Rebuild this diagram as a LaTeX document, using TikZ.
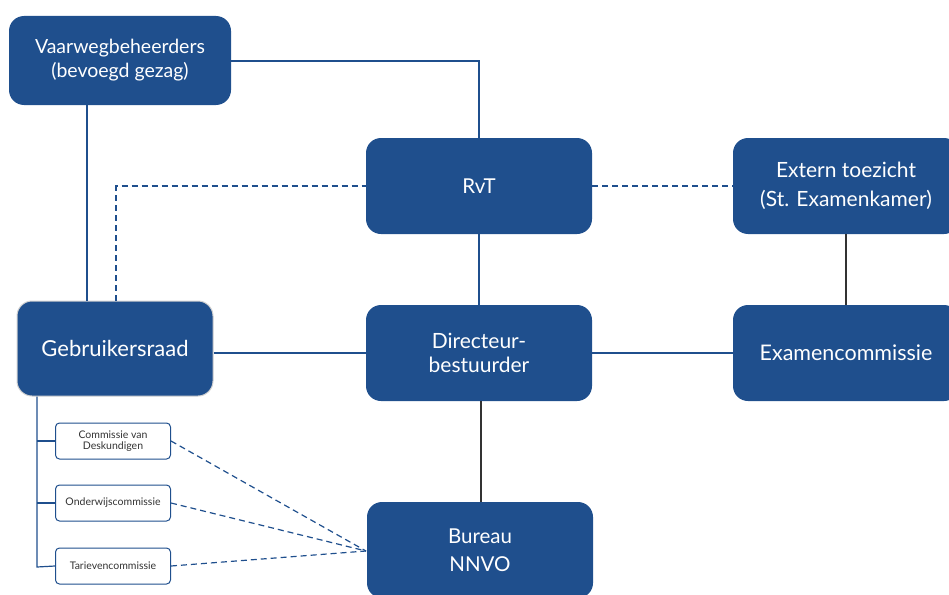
\documentclass[tikz,border=0pt]{standalone}
\usepackage{fontspec}
\setmainfont{Lato}
\begin{document}
\begin{tikzpicture}[x=1pt,y=-1pt,
  bigbox/.style={draw=none,fill=nblue,rounded corners=15pt,text=white,align=center,
    font=\fontsize{20.5}{25}\selectfont,inner sep=0pt},
  smallbox/.style={draw=nblue,line width=1pt,fill=white,rounded corners=4pt,text=black!80,align=center,
    font=\fontsize{10.5}{11}\selectfont,inner sep=0pt,minimum width=115pt,minimum height=36pt},
  bline/.style={draw=nblue,line width=1.2pt},
  gline/.style={draw=black!80,line width=1.2pt},
  dline/.style={draw=nblue,line width=1.2pt,dash pattern=on 6pt off 4pt},
]
\definecolor{nblue}{RGB}{31,79,141}
\useasboundingbox (0,0) rectangle (949,594);
\clip (0,0) rectangle (949,594);
% boxes
\node[bigbox,minimum width=222pt,minimum height=89pt,font=\fontsize{19.5}{24}\selectfont] (vw) at (120,60.5) {Vaarwegbeheerders\\(bevoegd gezag)};
\node[bigbox,minimum width=226pt,minimum height=96pt] (rvt) at (479,186) {RvT};
\node[bigbox,minimum width=226pt,minimum height=96pt,font=\fontsize{21}{29}\selectfont] (ext) at (846,186) {Extern toezicht\\(St. Examenkamer)};
\node[bigbox,draw=black!18,line width=1pt,minimum width=196pt,minimum height=95pt,font=\fontsize{22}{26}\selectfont] (gr) at (115,348.5) {Gebruikersraad};
\node[bigbox,minimum width=226pt,minimum height=96pt,font=\fontsize{21}{24}\selectfont] (dir) at (479,353) {Directeur-\\bestuurder};
\node[bigbox,minimum width=226pt,minimum height=96pt,font=\fontsize{21.5}{26}\selectfont] (exc) at (846,353) {Examencommissie};
\node[bigbox,minimum width=226pt,minimum height=96pt,font=\fontsize{20.5}{28}\selectfont] (bur) at (480,550) {Bureau\\NNVO};
\node[smallbox] (cvd) at (113,441) {Commissie van\\Deskundigen};
\node[smallbox] (ow) at (113,503) {Onderwijscommissie};
\node[smallbox] (tar) at (113,566) {Tarievencommissie};
% connectors
\draw[bline] (vw.east |- 0,61) -- (479,61) -- (rvt.north);
\draw[bline] (87,0 |- vw.south) -- (87,0 |- gr.north);
\draw[dline] (116,0 |- gr.north) -- (116,186) -- (rvt.west);
\draw[dline] (rvt.east) -- (ext.west);
\draw[gline] (ext.south) -- (exc.north);
\draw[bline] (rvt.south) -- (dir.north);
\draw[bline] (gr.east |- 0,353) -- (dir.west);
\draw[bline] (dir.east) -- (exc.west);
\draw[gline] (481,0 |- dir.south) -- (481,0 |- bur.north);
\coordinate (br) at (37,0 |- gr.south);
\draw[bline] (br) -- (37,567) -- (tar.west);
\draw[bline] (37,0 |- cvd.west) -- (cvd.west);
\draw[bline] (37,0 |- ow.west) -- (ow.west);
\coordinate (hub) at (366,551);
\draw[dline] (cvd.east) -- (hub);
\draw[dline] (ow.east) -- (hub);
\draw[dline] (tar.east) -- (hub);
\end{tikzpicture}
\end{document}
